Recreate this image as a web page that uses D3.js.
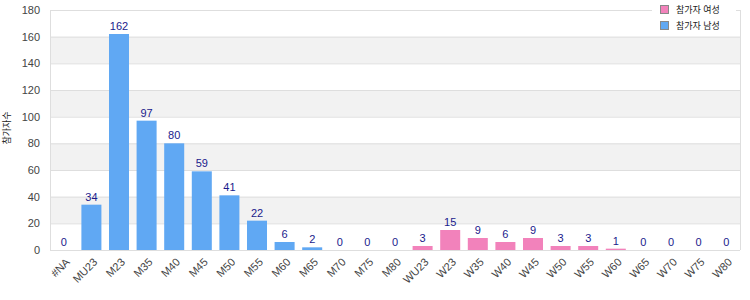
<!DOCTYPE html>
<html lang="ko">
  <head>
    <meta charset="UTF-8" />
    <title>참가자수</title>
    <script src="https://d3js.org/d3.v7.min.js"></script>
    <style>
      body { margin: 0; background: #fff; }
      text { font-family: "Liberation Sans", Arial, "Noto Sans CJK KR", sans-serif; }
    </style>
  </head>
  <body>
    <svg id="chart" width="750" height="300"></svg>
    <script>
      const categories = ["#NA", "MU23", "M23", "M35", "M40", "M45", "M50", "M55", "M60", "M65", "M70", "M75", "M80",
        "WU23", "W23", "W35", "W40", "W45", "W50", "W55", "W60", "W65", "W70", "W75", "W80"];
      const maleValues = [0, 34, 162, 97, 80, 59, 41, 22, 6, 2, 0, 0, 0,
        0, 0, 0, 0, 0, 0, 0, 0, 0, 0, 0, 0];
      const femaleValues = [0, 0, 0, 0, 0, 0, 0, 0, 0, 0, 0, 0, 0,
        3, 15, 9, 6, 9, 3, 3, 1, 0, 0, 0, 0];
      const yTicks = [0, 20, 40, 60, 80, 100, 120, 140, 160, 180];
      const seriesNames = ["참가자 여성", "참가자 남성"];
      const yTitle = "참가자수";

      const svg = d3.select("#chart");
      const margin = { top: 10, right: 10, bottom: 50, left: 50 };
      const width = 750 - margin.left - margin.right;
      const height = 300 - margin.top - margin.bottom;
      const g = svg.append("g").attr("transform", `translate(${margin.left},${margin.top})`);

      const x = d3.scaleBand().domain(categories).range([0, width]).paddingInner(0.275).paddingOuter(0.1375);
      const y = d3.scaleLinear().domain([0, 180]).range([height, 0]);

      // alternating bands
      g.selectAll(".band")
        .data(yTicks.slice(0, -1).filter((d, i) => i % 2 === 1))
        .enter()
        .append("rect")
        .attr("x", 0)
        .attr("width", width)
        .attr("y", (d) => y(d + 20))
        .attr("height", (d) => y(d) - y(d + 20))
        .attr("fill", "#f2f2f2");

      g.selectAll(".grid")
        .data(yTicks)
        .enter()
        .append("line")
        .attr("x1", 0)
        .attr("x2", width)
        .attr("y1", (d) => y(d) + 0.5)
        .attr("y2", (d) => y(d) + 0.5)
        .attr("stroke", "#dedede");

      g.append("line").attr("x1", 0.5).attr("x2", 0.5).attr("y1", 0).attr("y2", height).attr("stroke", "#dedede");
      g.append("line").attr("x1", width + 0.5).attr("x2", width + 0.5).attr("y1", 0).attr("y2", height).attr("stroke", "#dedede");

      const data = categories.map((c, i) => ({ cat: c, male: maleValues[i], female: femaleValues[i] }));

      g.selectAll(".male")
        .data(data)
        .enter()
        .append("rect")
        .attr("x", (d) => x(d.cat))
        .attr("width", x.bandwidth())
        .attr("y", (d) => y(d.male))
        .attr("height", (d) => y(0) - y(d.male))
        .attr("fill", "#60a8f3");

      g.selectAll(".female")
        .data(data)
        .enter()
        .append("rect")
        .attr("x", (d) => x(d.cat))
        .attr("width", x.bandwidth())
        .attr("y", (d) => y(d.male + d.female))
        .attr("height", (d) => y(d.male) - y(d.male + d.female))
        .attr("fill", "#f282bb");

      g.selectAll(".label")
        .data(data)
        .enter()
        .append("text")
        .attr("x", (d) => x(d.cat) + x.bandwidth() / 2)
        .attr("y", (d) => y(d.male + d.female) - 4)
        .attr("text-anchor", "middle")
        .style("font-size", "11px")
        .attr("fill", "#1a1a8c")
        .text((d) => d.male + d.female);

      // y axis labels
      g.selectAll(".ytick")
        .data(yTicks)
        .enter()
        .append("text")
        .attr("x", -10)
        .attr("y", (d) => y(d))
        .attr("dy", "0.35em")
        .attr("text-anchor", "end")
        .style("font-size", "11px")
        .attr("fill", "#444")
        .text((d) => d);

      // x axis labels
      g.selectAll(".xtick")
        .data(categories)
        .enter()
        .append("text")
        .attr("transform", (d) => `translate(${x(d) + x.bandwidth() / 2 + 4},${height + 10}) rotate(-45)`)
        .attr("text-anchor", "end")
        .attr("dy", "0.35em")
        .style("font-size", "11px")
        .attr("fill", "#444")
        .text((d) => d);

      svg.append("text")
        .attr("transform", `translate(10,128) rotate(-90)`)
        .attr("text-anchor", "middle")
        .style("font-size", "9px")
        .attr("fill", "#222")
        .text(yTitle);

      // legend
      const legend = svg.append("g").attr("transform", "translate(652,2)");
      legend.append("rect").attr("x", 0).attr("y", 0).attr("width", 84).attr("height", 34).attr("fill", "#fff");
      const colors = ["#f282bb", "#60a8f3"];
      seriesNames.forEach((name, i) => {
        legend.append("rect")
          .attr("x", 8.5).attr("y", 3.5 + i * 16)
          .attr("width", 8).attr("height", 8)
          .attr("fill", colors[i]).attr("stroke", "#888");
        legend.append("text")
          .attr("x", 24).attr("y", 8 + i * 16)
          .attr("dy", "0.35em")
          .style("font-size", "9px")
          .attr("fill", "#222")
          .text(name);
      });
    </script>
  </body>
</html>
